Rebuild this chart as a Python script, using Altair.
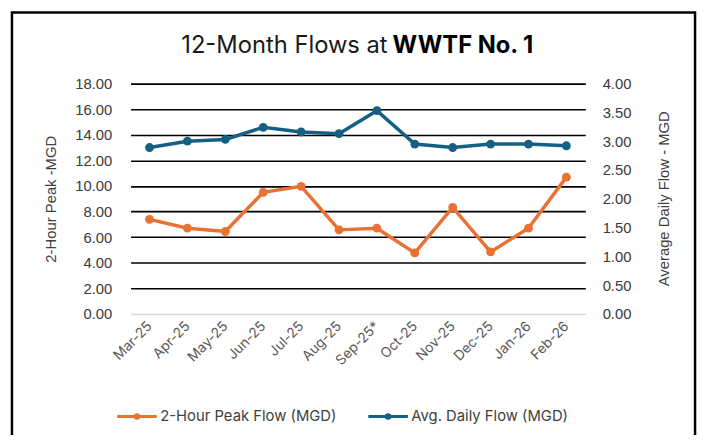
import altair as alt
import pandas as pd

months = ["Mar-25", "Apr-25", "May-25", "Jun-25", "Jul-25", "Aug-25",
          "Sep-25*", "Oct-25", "Nov-25", "Dec-25", "Jan-26", "Feb-26"]
peak_flow = [7.39, 6.70, 6.44, 9.50, 9.97, 6.57, 6.70, 4.77, 8.32, 4.85, 6.70, 10.69]
avg_flow = [2.89, 3.00, 3.03, 3.24, 3.16, 3.13, 3.53, 2.95, 2.89, 2.95, 2.95, 2.92]
series_names = ["2-Hour Peak Flow (MGD)", "Avg. Daily Flow (MGD)"]
series_colors = ["#E97132", "#156082"]
left_ticks = [0, 2, 4, 6, 8, 10, 12, 14, 16, 18]
right_ticks = [0, 0.5, 1, 1.5, 2, 2.5, 3, 3.5, 4]

peak_df = pd.DataFrame({"month": months, "value": peak_flow, "series": series_names[0]})
avg_df = pd.DataFrame({"month": months, "value": avg_flow, "series": series_names[1]})

AX_FONT = "Liberation Sans"
TXT_FONT = "Inter"

legend_path = ("M-1,0L1,0M-0.045,0a0.045,0.045 0 1,0 0.09,0"
               "a0.045,0.045 0 1,0 -0.09,0"
               "M-0.09,0a0.09,0.09 0 1,0 0.18,0a0.09,0.09 0 1,0 -0.18,0")

color = alt.Color(
    "series:N",
    scale=alt.Scale(domain=series_names, range=series_colors),
    legend=alt.Legend(
        title=None, orient="none", legendX=-15, legendY=315,
        direction="horizontal", symbolType=legend_path, symbolSize=1600,
        symbolStrokeWidth=3, labelFont=TXT_FONT, labelFontSize=15,
        labelColor="#404040", columnPadding=25, labelOffset=2,
        labelLimit=400,
    ),
)
color_nolegend = alt.Color(
    "series:N",
    scale=alt.Scale(domain=series_names, range=series_colors),
    legend=None,
)

x_enc = alt.X(
    "month:N", sort=months, title=None,
    scale=alt.Scale(paddingInner=0, paddingOuter=0),
    axis=alt.Axis(labelAngle=315, labelAlign="right", labelBaseline="middle",
                  labelFont=TXT_FONT, labelFontSize=14, labelColor="#595959",
                  labelPadding=10, ticks=False, domain=False, grid=False),
)

left_y = alt.Y(
    "value:Q", title="2-Hour Peak -MGD",
    scale=alt.Scale(domain=[0, 18], nice=False),
    axis=alt.Axis(values=left_ticks, format=".2f", labelFont=AX_FONT,
                  labelFontSize=15, labelColor="#3a3a3a", labelPadding=19,
                  ticks=False, domain=False, grid=True,
                  gridColor={"condition": {"test": "datum.value === 0", "value": "#d9d9d9"},
                             "value": "#000000"},
                  gridWidth=1.6, titleFont=AX_FONT, titleFontSize=15,
                  titleFontWeight="normal", titleColor="#404040", titlePadding=16),
)
right_y = alt.Y(
    "value:Q", title="Average  Daily Flow - MGD",
    scale=alt.Scale(domain=[0, 4], nice=False),
    axis=alt.Axis(orient="right", values=right_ticks, format=".2f",
                  labelFont=AX_FONT, labelFontSize=15, labelColor="#3a3a3a",
                  labelPadding=17, ticks=False, domain=False, grid=False,
                  titleFont=AX_FONT, titleFontSize=15, titleFontWeight="normal",
                  titleColor="#404040", titleAngle=270, titleX=79, titleY=116,
                  titleAlign="center", titleBaseline="middle"),
)

peak_line = alt.Chart(peak_df).mark_line(strokeWidth=3.5).encode(x=x_enc, y=left_y, color=color)
peak_pts = alt.Chart(peak_df).mark_point(filled=True, size=80, opacity=1).encode(
    x=x_enc, y=left_y, color=color_nolegend)
avg_line = alt.Chart(avg_df).mark_line(strokeWidth=3.5).encode(x=x_enc, y=right_y, color=color)
avg_pts = alt.Chart(avg_df).mark_point(filled=True, size=80, opacity=1).encode(
    x=x_enc, y=right_y, color=color_nolegend)

left_layer = alt.layer(peak_line, peak_pts)
right_layer = alt.layer(avg_line, avg_pts)

one_row = alt.Data(values=[{}])
title_a = alt.Chart(one_row).mark_text(
    text="12-Month Flows at", font=TXT_FONT, fontSize=24, align="right",
    baseline="alphabetic", color="#1a1a1a",
).encode(x=alt.value(260), y=alt.value(-31))
title_b = alt.Chart(one_row).mark_text(
    text="WWTF No. 1", font=TXT_FONT, fontSize=24, fontWeight="bold",
    align="left", baseline="alphabetic", color="#000000",
).encode(x=alt.value(265), y=alt.value(-31))
border = alt.Chart(one_row).mark_rect(
    fillOpacity=0, stroke="#000000", strokeWidth=2.5,
).encode(x=alt.value(-120), x2=alt.value(571), y=alt.value(-72), y2=alt.value(380))

chart = alt.layer(left_layer, right_layer, title_a, title_b, border).resolve_scale(
    y="independent"
).properties(
    width=460, height=233,
    padding={"left": 124, "top": 74, "right": 116, "bottom": 120},
    autosize=alt.AutoSizeParams(type="none"),
    background="white",
).configure_view(stroke=None)

chart.save("out.html", embed_options={"renderer": "svg", "actions": False})
